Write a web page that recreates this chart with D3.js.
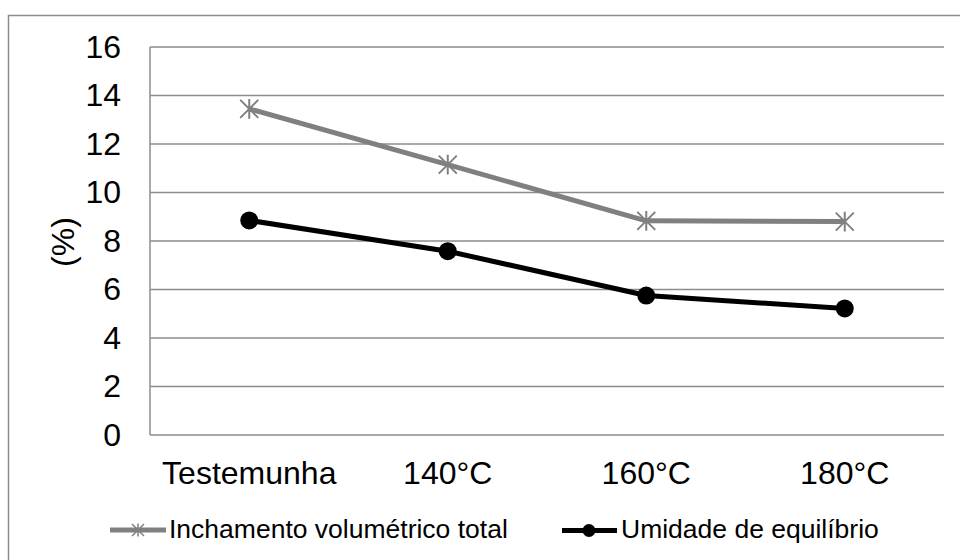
<!DOCTYPE html>
<html><head><meta charset="utf-8">
<script src="https://cdn.jsdelivr.net/npm/d3@7"></script>
<style>body{margin:0;background:#fff}svg{display:block;font-family:"Liberation Sans",Arial,sans-serif}</style>
</head><body>
<svg id="chart" width="960" height="560"></svg>
<script>
const categories = ["Testemunha", "140°C", "160°C", "180°C"];
const inchamento = [13.45, 11.15, 8.83, 8.8];
const umidade = [8.85, 7.58, 5.75, 5.22];
const yTicks = [0, 2, 4, 6, 8, 10, 12, 14, 16];
const seriesNames = ["Inchamento volumétrico total", "Umidade de equilíbrio"];

const svg = d3.select("#chart");
const margin = {left:150, top:47, right:944, bottom:435};
const x = d3.scaleBand().domain(categories).range([margin.left, margin.right]);
const y = d3.scaleLinear().domain([0, 16]).range([margin.bottom, margin.top]);
const gridColor = "#8c8c8c";
const axisFont = 32;

// outer border
svg.append("rect").attr("x", 8.5).attr("y", 15.5).attr("width", 970).attr("height", 570)
  .attr("fill", "none").attr("stroke", "#8c8c8c").attr("stroke-width", 1.5);

// gridlines
svg.append("g").selectAll("line").data(yTicks).join("line")
  .attr("x1", margin.left).attr("x2", margin.right)
  .attr("y1", d => y(d)).attr("y2", d => y(d))
  .attr("stroke", gridColor).attr("stroke-width", 1.5);
// left axis line
svg.append("line").attr("x1", margin.left).attr("x2", margin.left)
  .attr("y1", y(0)).attr("y2", y(16)).attr("stroke", gridColor).attr("stroke-width", 1.5);

// y tick labels
const yAxis = d3.axisLeft(y).tickValues(yTicks).tickSize(0).tickPadding(0);
const gy = svg.append("g").attr("transform", "translate(121,0)").call(yAxis);
gy.select(".domain").remove();
gy.selectAll("text").attr("font-size", axisFont).attr("fill", "#000").attr("font-family", "Liberation Sans, Arial, sans-serif");

// x labels
const xAxis = d3.axisBottom(x).tickSize(0).tickPadding(0);
const gx = svg.append("g").attr("transform", "translate(0,461)").call(xAxis);
gx.select(".domain").remove();
gx.selectAll("text").attr("font-size", axisFont).attr("fill", "#000").attr("dy", "0.71em").attr("font-family", "Liberation Sans, Arial, sans-serif");

// y label
svg.append("text").attr("transform", "translate(63,242) rotate(-90)")
  .attr("text-anchor", "middle").attr("dy", "0.35em").attr("font-size", axisFont).text("(%)");

const line = d3.line().x((d, i) => x(categories[i]) + x.bandwidth() / 2).y(d => y(d));

function star(g, cx, cy, s, color, w) {
  g.append("path").attr("d",
    `M${cx - s},${cy - s}L${cx + s},${cy + s}M${cx - s},${cy + s}L${cx + s},${cy - s}M${cx},${cy - s * 1.1}L${cx},${cy + s * 1.1}`)
    .attr("stroke", color).attr("stroke-width", w).attr("fill", "none");
}

// gray series
svg.append("path").datum(inchamento).attr("d", line).attr("fill", "none")
  .attr("stroke", "#808080").attr("stroke-width", 5).attr("stroke-linejoin", "round");
const gStars = svg.append("g");
inchamento.forEach((v, i) => star(gStars, x(categories[i]) + x.bandwidth() / 2, y(v), 9, "#808080", 2));

// black series
svg.append("path").datum(umidade).attr("d", line).attr("fill", "none")
  .attr("stroke", "#000").attr("stroke-width", 5).attr("stroke-linejoin", "round");
svg.append("g").selectAll("circle").data(umidade).join("circle")
  .attr("cx", (d, i) => x(categories[i]) + x.bandwidth() / 2).attr("cy", d => y(d)).attr("r", 9).attr("fill", "#000");

// legend
const leg = svg.append("g");
leg.append("line").attr("x1", 110).attr("x2", 166).attr("y1", 530).attr("y2", 530)
  .attr("stroke", "#808080").attr("stroke-width", 5);
star(leg, 138, 530, 6, "#808080", 1.5);
leg.append("text").attr("x", 169).attr("y", 538).attr("font-size", 26.5).text(seriesNames[0]);
leg.append("line").attr("x1", 562).attr("x2", 617).attr("y1", 530.5).attr("y2", 530.5)
  .attr("stroke", "#000").attr("stroke-width", 5);
leg.append("circle").attr("cx", 589).attr("cy", 530.5).attr("r", 6.5).attr("fill", "#000");
leg.append("text").attr("x", 621).attr("y", 538).attr("font-size", 26.5).text(seriesNames[1]);
</script>
</body></html>
